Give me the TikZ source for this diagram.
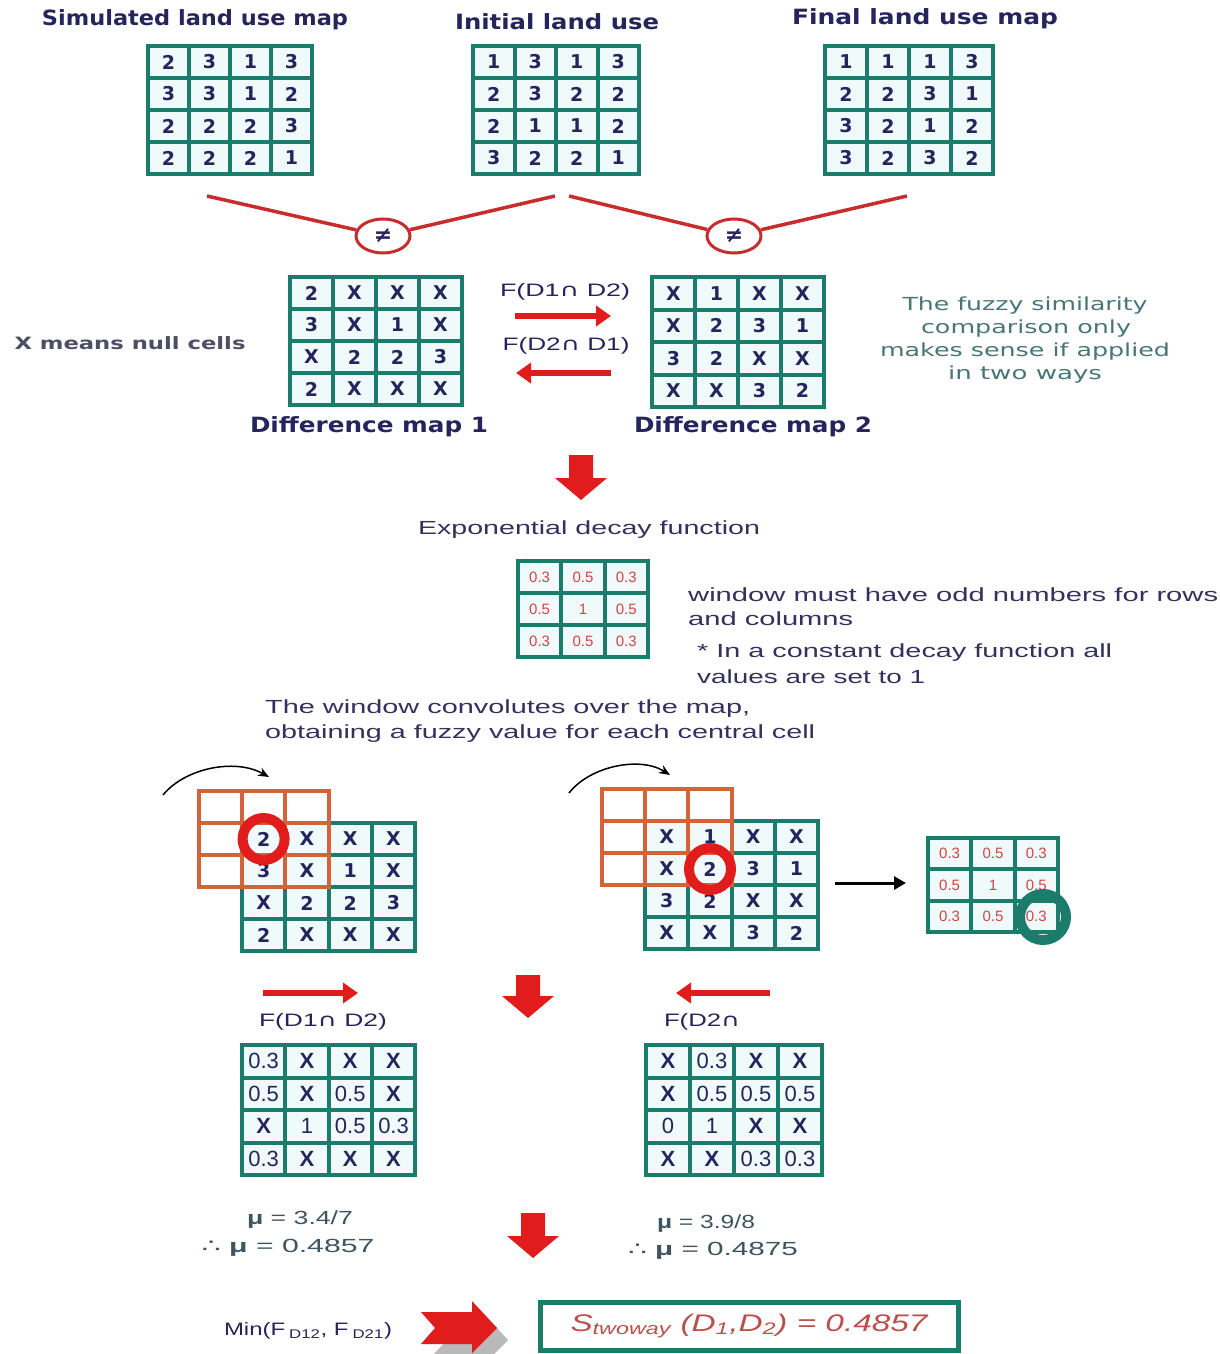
\documentclass[tikz,border=0pt]{standalone}
\usepackage{fontspec}
\usepackage{graphicx}
\usetikzlibrary{arrows.meta,shapes.geometric}
\newfontfamily\dv{DejaVu Sans}
\newfontfamily\ls{Liberation Sans}
\definecolor{gteal}{RGB}{28,124,108}
\definecolor{gfill}{RGB}{240,250,250}
\definecolor{navy}{RGB}{38,36,92}
\definecolor{gorange}{RGB}{214,98,58}
\definecolor{ared}{RGB}{225,28,28}
\definecolor{lred}{RGB}{200,45,45}
\definecolor{greyn}{RGB}{78,78,100}
\definecolor{fuzz}{RGB}{72,118,118}
\definecolor{decayred}{RGB}{205,70,70}
\definecolor{mugrey}{RGB}{62,84,96}
\definecolor{sred}{RGB}{185,80,75}
\definecolor{txtnavy}{RGB}{50,50,92}
\definecolor{shadowgrey}{RGB}{185,185,185}
\newsavebox\fitbx
\newlength\fitln
\newcommand\fitto[2]{\sbox\fitbx{#2}\setlength\fitln{\wd\fitbx}\pgfmathsetmacro\fitfac{#1/\fitln}\scalebox{\fitfac}[1]{\usebox\fitbx}}
\newcommand\bX{{\bfseries X}}
% #1 name, #2 left, #3 top, #4 cell w, #5 cell h, #6 line colour, #7 text style, #8 rows
\newcommand\cellgrid[8]{%
  \foreach \rw [count=\ri from 0] in {#8} {
    \foreach \vv [count=\ci from 0] in \rw {
      \node[cell, draw=#6, #7, minimum width=#4, minimum height=#5] (#1-\ri-\ci) at ({#2+(\ci+0.5)*#4},{#3+(\ri+0.5)*#5}) {\vv};
    }
  }%
}
% empty 3x3 window: #1 name, #2 left, #3 top, #4 cw, #5 ch, #6 colour
\newcommand\emptygrid[6]{%
  \foreach \ri in {0,1,2} {
    \foreach \ci in {0,1,2} {
      \node[cell, draw=#6, minimum width=#4, minimum height=#5] (#1-\ri-\ci) at ({#2+(\ci+0.5)*#4},{#3+(\ri+0.5)*#5}) {};
    }
  }%
}
% background: #1 name, #2 left, #3 top, #4 w, #5 h
\newcommand\gridbg[5]{\node[fill=gfill, inner sep=0pt, outer sep=0pt, minimum width=#4, minimum height=#5] (#1) at ({#2+#4/2},{#3+#5/2}) {};}
% block arrow down: cx, top, tip
\newcommand\blkdown[3]{\fill[ared] ({#1-12},#2) -- ({#1+12},#2) -- ({#1+12},{#3-22}) -- ({#1+26},{#3-22}) -- (#1,#3) -- ({#1-26},{#3-22}) -- ({#1-12},{#3-22}) -- cycle;}
\begin{document}
\begin{tikzpicture}[x=1pt,y=-1pt,
  cell/.style={rectangle, inner sep=0pt, outer sep=0pt, line width=4pt},
  numf/.style={font=\dv\bfseries\fontsize{19}{19}\selectfont, text=navy},
  decf/.style={font=\ls\fontsize{15}{15}\selectfont, text=decayred},
  rvalf/.style={font=\ls\fontsize{22}{22}\selectfont, text=navy},
  ttl/.style={font=\dv\bfseries\fontsize{21}{21}\selectfont, text=navy, inner sep=0pt},
  nullf/.style={font=\dv\bfseries\fontsize{17}{17}\selectfont, text=greyn, inner sep=0pt},
  flab/.style={font=\ls\fontsize{18}{18}\selectfont, text=navy, inner sep=0pt},
  fuzzf/.style={font=\dv\fontsize{18}{18}\selectfont, text=fuzz, inner sep=0pt},
  txtf/.style={font=\ls\fontsize{19}{19}\selectfont, text=txtnavy, inner sep=0pt},
  muf/.style={font=\ls\fontsize{19}{19}\selectfont, text=mugrey, inner sep=0pt},
  minf/.style={font=\ls\fontsize{18}{18}\selectfont, text=navy, inner sep=0pt},
  vline/.style={draw=lred, line width=3.5pt},
  neq/.style={ellipse, draw=lred, line width=3pt, minimum width=54, minimum height=34, inner sep=0pt, font=\dv\bfseries\fontsize{22}{22}\selectfont, text=navy},
  redarr/.style={draw=ared, line width=6pt, -{Triangle[length=15pt,width=20pt]}},
  ring/.style={circle, inner sep=0pt, line width=10pt}
]
\useasboundingbox (0,0) rectangle (1220,1354);
\fill[white] (0,0) rectangle (1220,1354);

% ---------- titles ----------
\node[ttl] (t-sim) at (195,20) {\fitto{306}{Simulated land use map}};
\node[ttl] (t-init) at (557,22) {\fitto{204}{Initial land use}};
\node[ttl] (t-fin) at (925,19) {\fitto{266}{Final land use map}};

% ---------- top grids ----------
\gridbg{simbg}{148}{46}{164}{128}
\cellgrid{sim}{148}{46}{41}{32}{gteal}{numf}{{2,3,1,3},{3,3,1,2},{2,2,2,3},{2,2,2,1}}
\gridbg{initbg}{473}{46}{166}{128}
\cellgrid{init}{473}{46}{41.5}{32}{gteal}{numf}{{1,3,1,3},{2,3,2,2},{2,1,1,2},{3,2,2,1}}
\gridbg{finbg}{825}{46}{168}{128}
\cellgrid{fin}{825}{46}{42}{32}{gteal}{numf}{{1,1,1,3},{2,2,3,1},{3,2,1,2},{3,2,3,2}}

% ---------- not-equal comparisons ----------
\node[neq] (ne1) at (383,236) {≠};
\node[neq] (ne2) at (734,236) {≠};
\coordinate (vl1) at (207,196);
\coordinate (vr1) at (555,196);
\coordinate (vl2) at (569,196);
\coordinate (vr2) at (907,196);
\draw[vline] (vl1) -- (ne1);
\draw[vline] (ne1) -- (vr1);
\draw[vline] (vl2) -- (ne2);
\draw[vline] (ne2) -- (vr2);

% ---------- difference maps ----------
\gridbg{d1bg}{290}{277}{172}{128}
\cellgrid{d1}{290}{277}{43}{32}{gteal}{numf}{{2,X,X,X},{3,X,1,X},{X,2,2,3},{2,X,X,X}}
\gridbg{d2bg}{652}{277}{172}{130}
\cellgrid{d2}{652}{277}{43}{32.5}{gteal}{numf}{{X,1,X,X},{X,2,3,1},{3,2,X,X},{X,X,3,2}}
\node[ttl] (t-d1) at (369,427) {\fitto{238}{Difference map 1}};
\node[ttl] (t-d2) at (753,427) {\fitto{238}{Difference map 2}};
\node[nullf] (t-null) at (130,343) {\fitto{231}{X means null cells}};
\node[flab] (t-f12) at (565,292) {\fitto{130}{F(D1{\dv∩} D2)}};
\node[flab] (t-f21) at (566,346) {\fitto{127}{F(D2{\dv∩} D1)}};
\coordinate (ha1s) at (515,316);
\coordinate (ha1e) at (611,316);
\coordinate (ha2s) at (611,373);
\coordinate (ha2e) at (516,373);
\draw[redarr] (ha1s) -- (ha1e);
\draw[redarr] (ha2s) -- (ha2e);
\node[fuzzf] (fz1) at (1025,306) {\fitto{245}{The fuzzy similarity}};
\node[fuzzf] (fz2) at (1026,329) {\fitto{210}{comparison only}};
\node[fuzzf] (fz3) at (1025,352) {\fitto{290}{makes sense if applied}};
\node[fuzzf] (fz4) at (1025,375) {\fitto{154}{in two ways}};

% ---------- decay function ----------
\blkdown{581}{455}{500}
\node[txtf] (t-exp) at (589,530) {\fitto{342}{Exponential decay function}};
\gridbg{decbg}{518}{561}{130}{96}
\cellgrid{dec}{518}{561}{43.3}{32}{gteal}{decf}{{0.3,0.5,0.3},{0.5,1,0.5},{0.3,0.5,0.3}}
\node[txtf, anchor=west] (t-win1) at (688,595) {\fitto{530}{window must have odd numbers for rows}};
\node[txtf, anchor=west] (t-win2) at (688,619) {\fitto{165}{and columns}};
\node[txtf, anchor=west] (t-con1) at (697,653) {\fitto{415}{* In a constant decay function all}};
\node[txtf, anchor=west] (t-con2) at (697,677) {\fitto{228}{values are set to 1}};
\node[txtf, anchor=west] (t-cv1) at (265,709) {\fitto{485}{The window convolutes over the map,}};
\node[txtf, anchor=west] (t-cv2) at (265,734) {\fitto{550}{obtaining a fuzzy value for each central cell}};

% ---------- convolution, left ----------
\gridbg{c1bg}{242}{823}{173.2}{128}
\cellgrid{c1}{242}{823}{43.3}{32}{gteal}{numf}{{2,X,X,X},{3,X,1,X},{X,2,2,3},{2,X,X,X}}
\emptygrid{w1}{198.7}{791}{43.3}{32}{gorange}
\node[ring, draw=ared, minimum size=42] (ring1) at (263.6,839) {};
\coordinate (cu1s) at (163,795);
\coordinate (cu1e) at (269,777);
\draw[line width=1.5pt, -{Stealth[length=11pt,width=9pt]}] (cu1s) .. controls (185,768) and (235,758) .. (cu1e);

% ---------- convolution, right ----------
\gridbg{c2bg}{645}{821}{173.2}{128}
\cellgrid{c2}{645}{821}{43.3}{32}{gteal}{numf}{{X,1,X,X},{X,2,3,1},{3,2,X,X},{X,X,3,2}}
\emptygrid{w2}{601.7}{789}{43.3}{32}{gorange}
\node[ring, draw=ared, minimum size=42] (ring2) at (710,869) {};
\coordinate (cu2s) at (569,793);
\coordinate (cu2e) at (670,775);
\draw[line width=1.5pt, -{Stealth[length=11pt,width=9pt]}] (cu2s) .. controls (590,766) and (640,756) .. (cu2e);
\coordinate (ba1) at (835,883);
\coordinate (ba2) at (906,883);
\draw[line width=3pt, -{Triangle[length=12pt,width=13pt]}] (ba1) -- (ba2);
\gridbg{sdbg}{928}{838}{130}{94}
\cellgrid{sd}{928}{838}{43.3}{31.3}{gteal}{decf}{{0.3,0.5,0.3},{0.5,1,0.5},{0.3,0.5,0.3}}
\node[ring, draw=gteal, minimum size=46] (ring3) at (1043,917) {};

% ---------- fuzzy results ----------
\coordinate (ha3s) at (263,993);
\coordinate (ha3e) at (358,993);
\coordinate (ha4s) at (770,993);
\coordinate (ha4e) at (676,993);
\draw[redarr] (ha3s) -- (ha3e);
\draw[redarr] (ha4s) -- (ha4e);
\blkdown{528}{975}{1018}
\node[flab] (t-bf12) at (323,1022) {\fitto{128}{F(D1{\dv∩} D2)}};
\node[flab] (t-bf21) at (702,1022) {\fitto{76}{F(D2{\dv∩}}};
\gridbg{r1bg}{242}{1045}{173.2}{130}
\cellgrid{r1}{242}{1045}{43.3}{32.5}{gteal}{rvalf}{{0.3,\bX,\bX,\bX},{0.5,\bX,0.5,\bX},{\bX,1,0.5,0.3},{0.3,\bX,\bX,\bX}}
\gridbg{r2bg}{646}{1045}{176}{130}
\cellgrid{r2}{646}{1045}{44}{32.5}{gteal}{rvalf}{{\bX,0.3,\bX,\bX},{\bX,0.5,0.5,0.5},{0,1,\bX,\bX},{\bX,\bX,0.3,0.3}}

% ---------- means ----------
\node[muf] (mu1a) at (300,1220) {\fitto{106}{{\bfseries μ} = 3.4/7}};
\node[muf] (mu1b) at (288,1248) {\fitto{173}{{\dv∴} {\bfseries μ} = 0.4857}};
\node[muf] (mu2a) at (706,1224) {\fitto{98}{{\bfseries μ} = 3.9/8}};
\node[muf] (mu2b) at (713,1251) {\fitto{170}{{\dv∴} {\bfseries μ} = 0.4875}};
\blkdown{533}{1213}{1258}

% ---------- final result ----------
\node[minf] (t-min) at (308,1331) {\fitto{168}{Min(F\,\textsubscript{D12}, F\,\textsubscript{D21})}};
\fill[shadowgrey] (433,1325) -- (484,1325) -- (484,1314) -- (508,1340) -- (484,1364) -- (484,1355) -- (433,1355) -- (447,1340) -- cycle;
\fill[ared] (421,1312) -- (472,1312) -- (472,1301) -- (497,1328) -- (472,1353) -- (472,1344) -- (421,1344) -- (435,1328) -- cycle;
\node[draw=gteal, line width=5pt, fill=white, minimum width=418, minimum height=48, inner sep=0pt,
      font=\ls\fontsize{24}{24}\selectfont, text=sred] (resbox) at (749,1326)
      {\fitto{357}{\itshape S\textsubscript{twoway} (D\textsubscript{1},D\textsubscript{2}) = 0.4857}};
\end{tikzpicture}
\end{document}
